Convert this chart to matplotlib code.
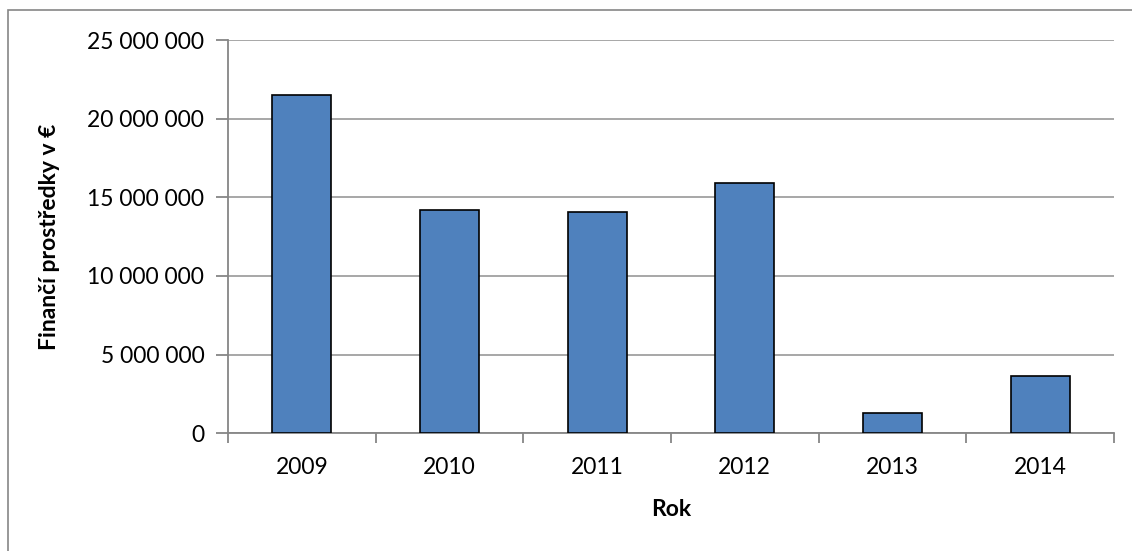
import matplotlib
matplotlib.use("Agg")
import matplotlib.pyplot as plt
from matplotlib.patches import Rectangle
from matplotlib.ticker import FuncFormatter, MultipleLocator

years = ["2009", "2010", "2011", "2012", "2013", "2014"]
funds = [21520000, 14200000, 14060000, 15900000, 1250000, 3630000]

plt.rcParams['font.family'] = ['Lato', 'DejaVu Sans']

fig = plt.figure(figsize=(11.32, 5.51), dpi=100)
ax = fig.add_axes([0.2014, 0.214, 0.7826, 0.713])

# outer chart border (only top/left visible in the original)
fig.patches.append(Rectangle((8 / 1132, -0.1), 1.2, 1 - 10 / 551 + 0.1,
                             transform=fig.transFigure, fill=False,
                             edgecolor='#868686', linewidth=1.2))

x = range(len(years))
ax.bar(x, funds, width=0.4, color='#4F81BD', edgecolor='black', linewidth=1.2, zorder=3)

ax.set_xlim(-0.5, len(years) - 0.5)
ax.set_ylim(0, 25000000)
ax.yaxis.set_major_locator(MultipleLocator(5000000))
ax.yaxis.set_major_formatter(FuncFormatter(lambda v, p: "{:,.0f}".format(v).replace(",", " ")))
ax.grid(axis='y', color='#A0A0A0', linewidth=1.3, zorder=0)

ax.set_xticks(list(x))
ax.set_xticklabels(years)
ax.set_xticks([i - 0.5 for i in range(len(years) + 1)], minor=True)
ax.tick_params(axis='x', which='major', length=0, pad=17, labelsize=16.5)
ax.tick_params(axis='x', which='minor', length=7, color='#868686', width=1.3)
ax.tick_params(axis='y', length=9, color='#868686', width=1.3, pad=8, labelsize=16.5)

for s in ['top', 'right']:
    ax.spines[s].set_visible(False)
for s in ['left', 'bottom']:
    ax.spines[s].set_color('#868686')
    ax.spines[s].set_linewidth(1.3)

ax.set_xlabel('Rok', fontsize=16.5, fontweight='bold', labelpad=15)
ax.set_ylabel('Finančí prostředky v €', fontsize=16.5, fontweight='bold', labelpad=20)

fig.savefig('out.png', dpi=100)
